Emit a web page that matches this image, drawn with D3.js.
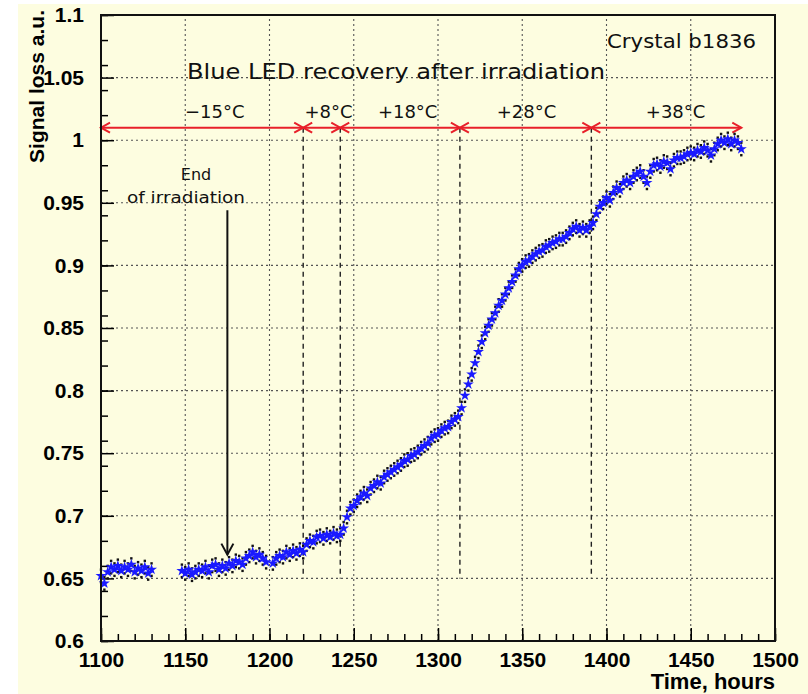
<!DOCTYPE html>
<html>
<head>
<meta charset="utf-8">
<script src="https://cdn.jsdelivr.net/npm/d3@7"></script>
<style>
  html, body { margin: 0; padding: 0; background: #ffffff; }
  svg { display: block; }
</style>
</head>
<body>
<svg id="recovery" width="808" height="694"></svg>
<script>
// measured runs (hours, signal loss a.u.)
const hoursA = [1100, 1102, 1104, 1106, 1108, 1110, 1112, 1114, 1116, 1118, 1120, 1122, 1124, 1126, 1128, 1130];
const lossA  = [0.652, 0.646, 0.655, 0.659, 0.657, 0.660, 0.656, 0.659, 0.657, 0.661, 0.655, 0.658, 0.656, 0.659, 0.654, 0.657];

const hoursB = [1148, 1150, 1152, 1154, 1156, 1158, 1160, 1162, 1164, 1166, 1168, 1170, 1172, 1174, 1176, 1178,
  1180, 1182, 1184, 1186, 1188, 1190, 1192, 1194, 1196, 1198, 1202, 1204, 1206, 1208, 1210, 1212, 1214, 1216,
  1218, 1220, 1222, 1224, 1226, 1228, 1230, 1232, 1234, 1236, 1238, 1240, 1242, 1244, 1246, 1248, 1250, 1252,
  1254, 1256, 1258, 1260, 1262, 1264, 1266, 1268, 1270, 1272, 1274, 1276, 1278, 1280, 1282, 1284, 1286, 1288,
  1290, 1292, 1294, 1296, 1298, 1300, 1302, 1304, 1306, 1308, 1310, 1312, 1314, 1316, 1318, 1320, 1322, 1324,
  1326, 1328, 1330, 1332, 1334, 1336, 1338, 1340, 1342, 1344, 1346, 1348, 1350, 1352, 1354, 1356, 1358, 1360,
  1362, 1364, 1366, 1368, 1370, 1372, 1374, 1376, 1378, 1380, 1382, 1384, 1386, 1388, 1390, 1392, 1394, 1396,
  1398, 1400, 1402, 1404, 1406, 1408, 1410, 1412, 1414, 1416, 1418, 1420, 1422, 1424, 1426, 1428, 1430, 1432,
  1434, 1436, 1438, 1440, 1442, 1444, 1446, 1448, 1450, 1452, 1454, 1456, 1458, 1460, 1462, 1464, 1466, 1468,
  1470, 1472, 1474, 1476, 1478, 1480];
const lossB = [0.656, 0.654, 0.657, 0.653, 0.655, 0.657, 0.656, 0.659, 0.655, 0.660, 0.661, 0.657, 0.660, 0.658, 0.662, 0.660,
  0.664, 0.663, 0.661, 0.666, 0.668, 0.671, 0.667, 0.669, 0.666, 0.663, 0.662, 0.666, 0.668, 0.667, 0.671, 0.669, 0.672, 0.670,
  0.673, 0.671, 0.677, 0.680, 0.679, 0.683, 0.684, 0.682, 0.685, 0.683, 0.686, 0.684, 0.685, 0.690, 0.699, 0.706, 0.708, 0.712,
  0.715, 0.718, 0.716, 0.722, 0.724, 0.727, 0.726, 0.731, 0.733, 0.735, 0.737, 0.739, 0.741, 0.744, 0.745, 0.748, 0.749, 0.751,
  0.754, 0.756, 0.758, 0.762, 0.764, 0.765, 0.768, 0.770, 0.771, 0.775, 0.777, 0.779, 0.786, 0.796, 0.805, 0.813, 0.822, 0.831,
  0.839, 0.846, 0.852, 0.857, 0.862, 0.868, 0.872, 0.877, 0.882, 0.887, 0.892, 0.897, 0.900, 0.903, 0.904, 0.907, 0.909, 0.911,
  0.912, 0.915, 0.916, 0.918, 0.919, 0.921, 0.921, 0.923, 0.926, 0.929, 0.931, 0.928, 0.930, 0.928, 0.931, 0.934, 0.941, 0.947,
  0.950, 0.954, 0.952, 0.958, 0.962, 0.960, 0.966, 0.968, 0.966, 0.971, 0.973, 0.975, 0.971, 0.966, 0.975, 0.980, 0.981, 0.979,
  0.983, 0.982, 0.977, 0.984, 0.986, 0.986, 0.987, 0.989, 0.990, 0.989, 0.992, 0.991, 0.994, 0.992, 0.988, 0.993, 0.997, 1.000,
  0.998, 1.001, 0.997, 1.000, 0.998, 0.993];
const lossErr = 0.005;

// temperature steps
const stepEdges  = [1100, 1220, 1242, 1313, 1391, 1480];
const stepLabels = ["\u221215\u00b0C", "+8\u00b0C", "+18\u00b0C", "+28\u00b0C", "+38\u00b0C"];
const stepLabelAt = [1167.5, 1235, 1282, 1352.5, 1441];
const stepLevel = 1.01;
const dashedBottom = 0.65;

// end of irradiation marker
const irradEnd = 1175;
const irradArrow = [0.944, 0.669];

// axes
const xTicks = [1100, 1150, 1200, 1250, 1300, 1350, 1400, 1450, 1500];
const xTickLabels = ["1100", "1150", "1200", "1250", "1300", "1350", "1400", "1450", "1500"];
const yTicks = [0.6, 0.65, 0.7, 0.75, 0.8, 0.85, 0.9, 0.95, 1, 1.05, 1.1];
const yTickLabels = ["0.6", "0.65", "0.7", "0.75", "0.8", "0.85", "0.9", "0.95", "1", "1.05", "1.1"];

const width = 808, height = 694;
const margin = {top: 15, right: 33, bottom: 53, left: 101};
const cream = "#fdfde0";
const blue = "#1a1aff";
const red = "#e8202a";

const svg = d3.select("svg#recovery");

svg.append("rect")
    .attr("x", 18).attr("y", 4)
    .attr("width", width - 18).attr("height", height - 4)
    .attr("fill", cream);

// SCALES
const xScale = d3.scaleLinear()
    .domain([1100, 1500])
    .range([margin.left, width - margin.right]);

const yScale = d3.scaleLinear()
    .domain([0.6, 1.1])
    .range([height - margin.bottom, margin.top]);

const x0 = xScale.range()[0], x1 = xScale.range()[1];
const yB = yScale.range()[0], yT = yScale.range()[1];

// GRID
const grid = svg.append("g")
    .attr("stroke", "#555")
    .attr("stroke-width", 1.1)
    .attr("stroke-dasharray", "2,3");

grid.selectAll("line.gx")
    .data(xTicks.slice(1, -1))
    .join("line")
    .attr("class", "gx")
    .attr("x1", d => xScale(d)).attr("x2", d => xScale(d))
    .attr("y1", yB).attr("y2", yT);

grid.selectAll("line.gy")
    .data(yTicks.slice(1, -1))
    .join("line")
    .attr("class", "gy")
    .attr("x1", x0).attr("x2", x1)
    .attr("y1", d => yScale(d)).attr("y2", d => yScale(d));

// AXIS
const xAxis = g => g.attr("transform", `translate(0,${yB})`)
    .call(d3.axisBottom(xScale)
        .tickValues(xTicks)
        .tickFormat((d, i) => xTickLabels[i])
        .tickSizeInner(-13).tickSizeOuter(0).tickPadding(11))
    .call(g => g.select(".domain").remove());

const xMinor = g => g.attr("transform", `translate(0,${yB})`)
    .call(d3.axisBottom(xScale).ticks(40).tickFormat("").tickSizeInner(-7).tickSizeOuter(0))
    .call(g => g.select(".domain").remove());

const yAxis = g => g.attr("transform", `translate(${x0},0)`)
    .call(d3.axisLeft(yScale)
        .tickValues(yTicks)
        .tickFormat((d, i) => yTickLabels[i])
        .tickSizeInner(-13).tickSizeOuter(0).tickPadding(17))
    .call(g => g.select(".domain").remove());

const yMinor = g => g.attr("transform", `translate(${x0},0)`)
    .call(d3.axisLeft(yScale).ticks(20).tickFormat("").tickSizeInner(-7).tickSizeOuter(0))
    .call(g => g.select(".domain").remove());

[xMinor, yMinor, xAxis, yAxis].forEach(a => {
  svg.append("g").call(a)
      .call(g => g.selectAll(".tick line").attr("stroke", "#000").attr("stroke-width", 1.5))
      .call(g => g.selectAll(".tick text")
          .attr("fill", "#000")
          .attr("font-family", "'Liberation Sans', Arial, sans-serif")
          .attr("font-weight", "bold")
          .attr("font-size", 21));
});

// temperature boundaries (dashed)
svg.append("g")
    .selectAll("line")
    .data(stepEdges.slice(1, -1))
    .join("line")
    .attr("x1", d => xScale(d)).attr("x2", d => xScale(d))
    .attr("y1", yScale(stepLevel)).attr("y2", yScale(dashedBottom))
    .attr("stroke", "#222")
    .attr("stroke-width", 1.4)
    .attr("stroke-dasharray", "5,4");

// red double arrows
const arrows = svg.append("g")
    .attr("stroke", red).attr("stroke-width", 2).attr("fill", "none");
const ya = yScale(stepLevel);
arrows.append("line")
    .attr("x1", xScale(stepEdges[0])).attr("x2", xScale(stepEdges[stepEdges.length - 1]))
    .attr("y1", ya).attr("y2", ya);
stepEdges.forEach((e, i) => {
  const cx = xScale(e);
  if (i > 0) arrows.append("path").attr("d", `M${cx - 9},${ya - 5}L${cx},${ya}L${cx - 9},${ya + 5}`);
  if (i < stepEdges.length - 1) arrows.append("path").attr("d", `M${cx + 9},${ya - 5}L${cx},${ya}L${cx + 9},${ya + 5}`);
});

svg.append("g")
    .selectAll("text")
    .data(stepLabels)
    .join("text")
    .attr("x", (d, i) => xScale(stepLabelAt[i]))
    .attr("y", 118)
    .attr("text-anchor", "middle")
    .attr("font-family", "'DejaVu Sans', sans-serif")
    .attr("font-size", 18)
    .attr("fill", "#111")
    .text(d => d);

// end of irradiation arrow
const xi = xScale(irradEnd);
svg.append("line")
    .attr("x1", xi).attr("x2", xi)
    .attr("y1", yScale(irradArrow[0])).attr("y2", yScale(irradArrow[1]))
    .attr("stroke", "#111").attr("stroke-width", 2);
svg.append("path")
    .attr("d", `M${xi - 6},${yScale(irradArrow[1]) - 11}L${xi},${yScale(irradArrow[1])}L${xi + 6},${yScale(irradArrow[1]) - 11}`)
    .attr("stroke", "#111").attr("stroke-width", 2).attr("fill", "none");

svg.append("text")
    .attr("x", 196).attr("y", 180)
    .attr("text-anchor", "middle")
    .attr("font-family", "'DejaVu Sans', sans-serif")
    .attr("font-size", 16).attr("fill", "#111")
    .text("End");
svg.append("text")
    .attr("x", 127).attr("y", 203)
    .attr("textLength", 118).attr("lengthAdjust", "spacingAndGlyphs")
    .attr("font-family", "'DejaVu Sans', sans-serif")
    .attr("font-size", 16).attr("fill", "#111")
    .text("of irradiation");

// POINTS
const points = d3.zip(hoursA, lossA).concat(d3.zip(hoursB, lossB));
const star = d3.symbol().type(d3.symbolStar).size(38);

const pts = svg.append("g");
pts.selectAll("rect.hi")
    .data(points)
    .join("rect")
    .attr("x", d => xScale(d[0]) - 1.2).attr("y", d => yScale(d[1] + lossErr) - 1.2)
    .attr("width", 2.4).attr("height", 2.4).attr("fill", "#111");
pts.selectAll("rect.lo")
    .data(points)
    .join("rect")
    .attr("x", d => xScale(d[0]) - 1.2).attr("y", d => yScale(d[1] - lossErr) - 1.2)
    .attr("width", 2.4).attr("height", 2.4).attr("fill", "#111");
pts.selectAll("path")
    .data(points)
    .join("path")
    .attr("transform", d => `translate(${xScale(d[0])},${yScale(d[1])})`)
    .attr("d", star)
    .attr("fill", blue);

// frame
svg.append("rect")
    .attr("x", x0).attr("y", yT)
    .attr("width", x1 - x0).attr("height", yB - yT)
    .attr("fill", "none").attr("stroke", "#111").attr("stroke-width", 2);

// TEXTS
svg.append("text")
    .attr("x", 187).attr("y", 79)
    .attr("textLength", 418).attr("lengthAdjust", "spacingAndGlyphs")
    .attr("font-family", "'DejaVu Sans', sans-serif")
    .attr("font-size", 21).attr("fill", "#111")
    .text("Blue LED recovery after irradiation");

svg.append("text")
    .attr("x", 607).attr("y", 48)
    .attr("textLength", 149).attr("lengthAdjust", "spacingAndGlyphs")
    .attr("font-family", "'DejaVu Sans', sans-serif")
    .attr("font-size", 19).attr("fill", "#111")
    .text("Crystal b1836");

svg.append("text")
    .attr("x", x1).attr("y", 689)
    .attr("text-anchor", "end")
    .attr("font-family", "'Liberation Sans', Arial, sans-serif")
    .attr("font-weight", "bold").attr("font-size", 22)
    .text("Time, hours");

svg.append("text")
    .attr("transform", "translate(44,10) rotate(-90)")
    .attr("text-anchor", "end")
    .attr("font-family", "'Liberation Sans', Arial, sans-serif")
    .attr("font-weight", "bold").attr("font-size", 21)
    .text("Signal loss a.u.");
</script>
</body>
</html>
